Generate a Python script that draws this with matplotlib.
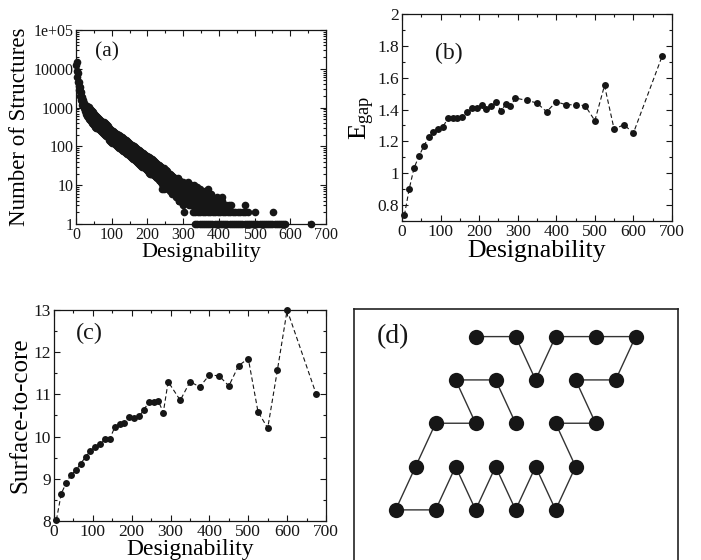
import numpy as np
import matplotlib
matplotlib.use('Agg')
import matplotlib.pyplot as plt
from matplotlib.ticker import MultipleLocator, FixedLocator, LogLocator, NullFormatter

plt.rcParams['font.family'] = ['Liberation Serif', 'DejaVu Serif']
plt.rcParams['mathtext.fontset'] = 'custom'
plt.rcParams['mathtext.rm'] = 'Liberation Serif'
plt.rcParams['mathtext.it'] = 'Liberation Serif:italic'

INK = '#161616'

# ---- (a) number of structures vs designability ----
# dense band, sampled every 3 designability units (d = 1, 4, ..., 298)
band_d = np.arange(1, 300, 3)
band_mid = [12600, 6000, 3700, 2600, 2000, 1500, 1230, 1050, 910, 810,
            740, 680, 630, 575, 537, 500, 457, 427, 398, 380,
            363, 339, 324, 302, 288, 275, 263, 251, 240, 229,
            219, 209, 200, 190, 182, 174, 166, 158, 151, 145,
            138, 132, 126, 120, 115, 110, 105, 100, 95, 89,
            85, 81, 78, 74, 71, 66, 63, 60, 58, 55,
            52, 50, 48, 46, 44, 42, 40, 37, 35, 33,
            32, 30, 28, 26, 25, 23, 22, 21, 20, 19,
            17, 17, 16, 15, 14, 13, 12, 12, 11, 10,
            10, 9, 9, 8, 8, 7, 7, 7, 6, 6]
band_high = [14800, 7600, 4600, 3300, 2500, 1900, 1550, 1350, 1150, 1040,
             1090, 1010, 930, 860, 800, 750, 690, 640, 600, 575,
             540, 510, 480, 455, 430, 415, 395, 380, 360, 345,
             290, 280, 265, 255, 245, 232, 222, 212, 203, 195,
             186, 178, 172, 162, 155, 150, 142, 136, 128, 122,
             116, 110, 106, 100, 96, 90, 86, 82, 79, 75,
             72, 68, 66, 63, 60, 58, 55, 52, 50, 48,
             47, 45, 42, 40, 38, 36, 34, 33, 31, 29,
             28, 27, 25, 24, 23, 21, 20, 19, 18, 17,
             16, 15, 15, 14, 13, 12, 12, 11, 11, 10]
band_low = [9000, 4500, 2800, 2000, 1550, 1150, 950, 800, 700, 620,
            560, 520, 480, 440, 410, 380, 350, 325, 300, 290,
            275, 258, 245, 230, 218, 208, 198, 190, 180, 172,
            144, 137, 132, 125, 119, 113, 107, 102, 98, 93,
            89, 85, 81, 77, 74, 70, 67, 63, 61, 57,
            54, 51, 48, 47, 44, 41, 40, 37, 35, 33,
            32, 30, 29, 27, 26, 25, 23, 21, 20, 19,
            20, 19, 18, 17, 16, 15, 14, 13, 12, 11,
            11, 10, 10, 9, 9, 8, 8, 7, 7, 6,
            6, 6, 5, 5, 5, 4, 4, 4, 4, 3]

# sparse tail: designabilities found at each small count
tail_1 = [333, 340, 346, 352, 358, 364, 370, 376, 382, 388, 394, 400, 406, 412,
          418, 424, 430, 436, 442, 448, 454, 460, 466, 472, 478, 484, 490, 496,
          502, 508, 514, 520, 526, 532, 538, 544, 550, 556, 562, 568, 574, 580,
          585, 658]
tail_2 = [301, 327, 334, 341, 348, 355, 362, 369, 376, 383, 390, 397, 404, 411,
          418, 425, 432, 439, 446, 453, 460, 467, 474, 481, 501, 551]
tail_3 = [316, 323, 330, 338, 345, 352, 360, 367, 375, 382, 390, 398, 405, 413,
          420, 428, 435, 473]
tail_4 = [288, 296, 304, 312, 320, 328, 337, 346, 355, 364, 373, 382, 391, 400, 410]
tail_5 = [300, 310, 320, 330, 342, 355, 368, 380, 395, 408]
tail_6 = [298, 312, 326, 340, 352, 365, 378]
tail_7 = [305, 322, 338, 350, 362]
tail_8 = [240, 246, 310, 330, 348, 370]
tail_9 = [300, 318, 340]
tail_10 = [296, 315, 330]
upper_tail_d = [285, 292, 300, 306, 314, 322]
upper_tail_n = [15, 13, 12, 11, 12, 10]

# ---- (b), (c) binned averages ----
bin_d = [6.25, 18.75, 31.25, 43.75, 56.25, 68.75, 81.25, 93.75, 106.25, 118.75,
         131.25, 143.75, 156.25, 168.75, 181.25, 193.75, 206.25, 218.75, 231.25,
         243.75, 256.25, 268.75, 281.25, 293.75,
         325, 350, 375, 400, 425, 450, 475, 500, 525, 550, 575, 600, 675]
egap = [0.737, 0.902, 1.033, 1.106, 1.169, 1.225, 1.257, 1.278, 1.292, 1.344,
        1.347, 1.347, 1.353, 1.382, 1.409, 1.409, 1.428, 1.403, 1.420, 1.449,
        1.392, 1.432, 1.420, 1.472, 1.457, 1.441, 1.386, 1.449, 1.430, 1.430,
        1.424, 1.330, 1.551, 1.276, 1.305, 1.253, 1.739]
surface_core = [8.03, 8.65, 8.90, 9.10, 9.20, 9.36, 9.52, 9.66, 9.76, 9.82,
                9.95, 9.95, 10.22, 10.29, 10.33, 10.46, 10.44, 10.48, 10.63, 10.82,
                10.81, 10.84, 10.57, 11.30, 10.86, 11.30, 11.18, 11.46, 11.44, 11.20,
                11.68, 11.85, 10.59, 10.20, 11.58, 13.0, 11.0]

# ---- (d) chain on triangular lattice: column k, row r (row 0 on top) ----
chain_k = [0, 1, 2, 2, 3, 4, 4, 3, 4, 3, 4, 4, 3, 3, 2, 2, 1, 1, 0, 0, 0, 1, 0, 1, 2]
chain_r = [0, 0, 1, 0, 0, 0, 1, 1, 2, 2, 3, 4, 3, 4, 3, 4, 3, 4, 4, 3, 2, 2, 1, 1, 2]
ROW_H = 1.083


def style_axes(ax, tick_size):
    for sp in ax.spines.values():
        sp.set_linewidth(0.9)
        sp.set_color(INK)
    ax.tick_params(which='both', direction='in', top=True, right=True,
                   colors=INK, labelsize=tick_size, pad=2, width=0.8)
    ax.tick_params(which='major', length=4)
    ax.tick_params(which='minor', length=2)


fig = plt.figure(figsize=(7.01, 5.60), dpi=100)

# (a)
ax = fig.add_axes([76 / 701, 336 / 560, 250 / 701, 194 / 560])
tail_d, tail_n = [], []
for n, ds in enumerate([tail_1, tail_2, tail_3, tail_4, tail_5, tail_6,
                        tail_7, tail_8, tail_9, tail_10], start=1):
    tail_d += ds
    tail_n += [n] * len(ds)
tail_d += upper_tail_d
tail_n += upper_tail_n
kw = dict(ls='none', marker='o', ms=5.5, mew=0, color=INK, clip_on=False)
ax.plot(band_d, band_mid, **kw)
ax.plot(band_d + 1, band_high, **kw)
ax.plot(band_d + 2, band_low, **kw)
ax.plot(tail_d, tail_n, **kw)
ax.set_yscale('log')
ax.set_xlim(0, 700)
ax.set_ylim(1, 1e5)
ax.yaxis.set_major_locator(FixedLocator([1, 10, 100, 1000, 10000, 100000]))
ax.set_yticklabels(['1', '10', '100', '1000', '10000', '1e+05'])
ax.yaxis.set_minor_locator(LogLocator(base=10, subs=range(2, 10)))
ax.yaxis.set_minor_formatter(NullFormatter())
ax.xaxis.set_major_locator(MultipleLocator(100))
ax.xaxis.set_minor_locator(MultipleLocator(50))
style_axes(ax, 11.5)
ax.set_xlabel('Designability', fontsize=16, labelpad=0)
ax.set_ylabel('Number of Structures', fontsize=16.5, labelpad=2)
ax.text(0.124, 0.887, '(a)', transform=ax.transAxes, fontsize=15.5,
        ha='center', va='center', color=INK)

# (b)
ax = fig.add_axes([402 / 701, 339 / 560, 270 / 701, 207 / 560])
ax.plot(bin_d, egap, ls=(0, (4, 2.5)), lw=0.8, color=INK, marker='o', ms=5,
        mew=0, clip_on=False)
ax.set_xlim(0, 700)
ax.set_ylim(0.7, 2)
ax.xaxis.set_major_locator(MultipleLocator(100))
ax.xaxis.set_minor_locator(MultipleLocator(50))
ax.yaxis.set_major_locator(FixedLocator([0.8, 1.0, 1.2, 1.4, 1.6, 1.8, 2.0]))
ax.set_yticklabels(['0.8', '1', '1.2', '1.4', '1.6', '1.8', '2'])
ax.yaxis.set_minor_locator(MultipleLocator(0.1))
style_axes(ax, 12.5)
ax.set_xlabel('Designability', fontsize=18.5, labelpad=0)
ax.set_ylabel(r'E$_{\mathregular{gap}}$', fontsize=19, labelpad=0)
ax.text(0.174, 0.81, '(b)', transform=ax.transAxes, fontsize=17,
        ha='center', va='center', color=INK)

# (c)
ax = fig.add_axes([54 / 701, 39 / 560, 272 / 701, 211 / 560])
ax.plot(bin_d, surface_core, ls=(0, (4, 2.5)), lw=0.8, color=INK, marker='o',
        ms=5, mew=0, clip_on=False)
ax.set_xlim(0, 700)
ax.set_ylim(8, 13)
ax.xaxis.set_major_locator(MultipleLocator(100))
ax.xaxis.set_minor_locator(MultipleLocator(50))
ax.yaxis.set_major_locator(MultipleLocator(1))
ax.yaxis.set_minor_locator(MultipleLocator(0.5))
style_axes(ax, 12.5)
ax.set_xlabel('Designability', fontsize=17, labelpad=-0.5)
ax.set_ylabel('Surface-to-core', fontsize=18, labelpad=2)
ax.text(0.13, 0.89, '(c)', transform=ax.transAxes, fontsize=17.5,
        ha='center', va='center', color=INK)

# (d)
ax = fig.add_axes([354 / 701, -15 / 560, 324 / 701, 266 / 560])
bx = [k - 0.5 * r for k, r in zip(chain_k, chain_r)]
by = [r * ROW_H for r in chain_r]
ax.plot(bx, by, color='#333333', lw=1.0, zorder=1)
ax.plot(bx, by, ls='none', marker='o', ms=11, mew=0, color=INK, zorder=2)
ax.set_xlim(-3.04, 5.06)
ax.set_ylim(5.96, -0.69)
ax.set_xticks([])
ax.set_yticks([])
for sp in ax.spines.values():
    sp.set_linewidth(1.2)
    sp.set_color('#222222')
ax.text(-2.07, 0.0, '(d)', fontsize=20, ha='center', va='center', color=INK)

fig.savefig('out.png', dpi=100)
